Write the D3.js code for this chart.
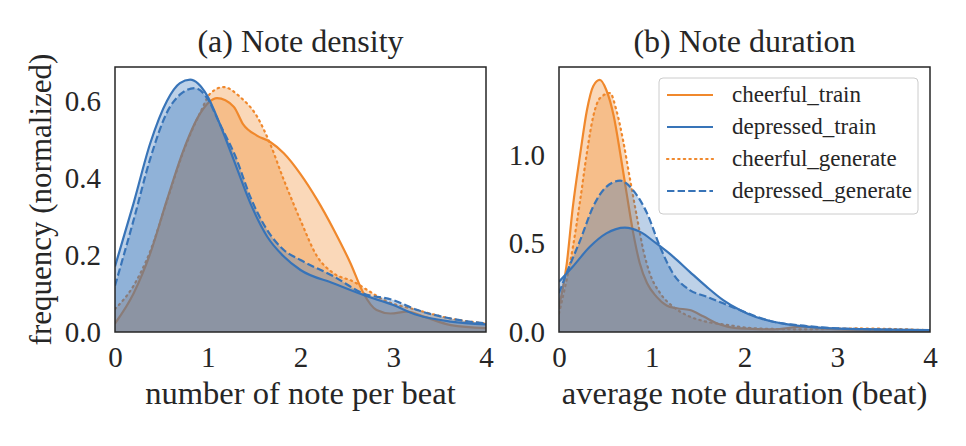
<!DOCTYPE html>
<html>
<head>
<meta charset="utf-8">
<script src="https://cdn.jsdelivr.net/npm/d3@7"></script>
<style>
  html, body { margin: 0; padding: 0; background: #fff; }
  svg { display: block; }
  text { font-family: "Liberation Serif", "Times New Roman", Tinos, "DejaVu Serif", serif; fill: #262626; }
</style>
</head>
<body>
<svg id="chart" width="966" height="446"></svg>
<script>
// ---------------- DATA ----------------
const seriesNames = ["cheerful_train", "depressed_train", "cheerful_generate", "depressed_generate"];
const drawOrder = ["cheerful_train", "cheerful_generate", "depressed_train", "depressed_generate"];
const panelTitles = ["(a) Note density", "(b) Note duration"];
const xLabels = ["number of note per beat", "average note duration (beat)"];
const yLabel = "frequency (normalized)";
const xTicks = [0, 1, 2, 3, 4];
const yTicksA = [0.0, 0.2, 0.4, 0.6];
const yTicksB = [0.0, 0.5, 1.0];
const yMaxA = 0.688;
const yMaxB = 1.497;

// Panel (a): note density
const a_cheerful_train_x = [0,0.2,0.38,0.56,0.74,0.92,1.1,1.28,1.38,1.53,1.67,1.82,2.0,2.18,2.36,2.54,2.68,2.82,2.97,3.15,3.33,3.62,4.0];
const a_cheerful_train_y = [0.022,0.10,0.204,0.343,0.473,0.568,0.607,0.585,0.54,0.51,0.494,0.464,0.41,0.343,0.265,0.178,0.10,0.057,0.048,0.053,0.04,0.018,0.01];
const a_depressed_train_x = [0,0.2,0.38,0.56,0.70,0.81,0.99,1.13,1.28,1.46,1.64,1.82,2.0,2.36,2.68,3.0,3.26,3.62,4.0];
const a_depressed_train_y = [0.17,0.334,0.49,0.60,0.646,0.655,0.615,0.54,0.447,0.334,0.248,0.196,0.161,0.126,0.096,0.07,0.044,0.027,0.02];
const a_cheerful_generate_x = [0,0.2,0.38,0.56,0.74,0.92,1.03,1.17,1.35,1.53,1.67,1.82,2.0,2.18,2.36,2.57,2.72,2.9,3.26,3.62,4.0];
const a_cheerful_generate_y = [0.06,0.12,0.21,0.34,0.47,0.57,0.62,0.636,0.61,0.56,0.49,0.395,0.29,0.196,0.152,0.131,0.109,0.083,0.057,0.035,0.022];
const a_depressed_generate_x = [0,0.2,0.38,0.56,0.72,0.86,1.0,1.13,1.3,1.46,1.64,1.82,2.0,2.36,2.68,3.0,3.26,3.62,4.0];
const a_depressed_generate_y = [0.12,0.29,0.45,0.57,0.62,0.633,0.605,0.54,0.455,0.35,0.265,0.213,0.187,0.144,0.10,0.083,0.057,0.035,0.022];

// Panel (b): note duration
const b_cheerful_train_x = [0,0.08,0.15,0.23,0.3,0.37,0.44,0.51,0.59,0.66,0.73,0.8,0.87,0.95,1.05,1.16,1.27,1.41,1.56,1.7,1.95,2.31,2.63,2.85,3.39,4.0];
const b_cheerful_train_y = [0.143,0.37,0.71,1.01,1.25,1.39,1.424,1.367,1.22,1.01,0.78,0.56,0.39,0.275,0.2,0.15,0.134,0.124,0.087,0.05,0.02,0.015,0.03,0.02,0.008,0.005];
const b_depressed_train_x = [0,0.15,0.33,0.51,0.71,0.87,1.05,1.23,1.41,1.59,1.77,1.95,2.13,2.31,2.67,3.03,3.39,4.0];
const b_depressed_train_y = [0.284,0.37,0.48,0.557,0.59,0.567,0.50,0.426,0.34,0.256,0.18,0.124,0.083,0.058,0.03,0.019,0.015,0.011];
const b_cheerful_generate_x = [0,0.15,0.23,0.3,0.37,0.44,0.55,0.62,0.69,0.76,0.84,0.91,0.98,1.09,1.23,1.41,1.59,1.81,2.13,2.67,3.21,4.0];
const b_cheerful_generate_y = [0.105,0.48,0.75,1.01,1.22,1.32,1.35,1.25,1.085,0.88,0.65,0.46,0.33,0.22,0.143,0.087,0.058,0.04,0.02,0.015,0.02,0.01];
const b_depressed_generate_x = [0,0.08,0.23,0.37,0.51,0.66,0.8,0.95,1.09,1.23,1.41,1.59,1.77,1.95,2.13,2.31,2.67,3.03,3.39,4.0];
const b_depressed_generate_y = [0.22,0.33,0.52,0.71,0.82,0.855,0.80,0.67,0.48,0.33,0.237,0.2,0.162,0.124,0.087,0.058,0.034,0.02,0.015,0.01];

// ---------------- STYLE ----------------
const FONT = '"Liberation Serif", "Times New Roman", Tinos, "DejaVu Serif", serif';
const ORANGE = "#f0882c";
const BLUE = "#3874b8";
const styles = {
  cheerful_train:     { color: ORANGE, dash: null, cap: "butt" },
  depressed_train:    { color: BLUE,   dash: null, cap: "butt" },
  cheerful_generate:  { color: ORANGE, dash: "1.4,4.2", cap: "round" },
  depressed_generate: { color: BLUE,   dash: "7.4,3.2", cap: "butt" }
};
const FILL_OPACITY = 0.33;

const zip = (xs, ys) => xs.map((x, i) => ({ x, y: ys[i] }));
const panelsData = [
  {
    cheerful_train: zip(a_cheerful_train_x, a_cheerful_train_y),
    depressed_train: zip(a_depressed_train_x, a_depressed_train_y),
    cheerful_generate: zip(a_cheerful_generate_x, a_cheerful_generate_y),
    depressed_generate: zip(a_depressed_generate_x, a_depressed_generate_y)
  },
  {
    cheerful_train: zip(b_cheerful_train_x, b_cheerful_train_y),
    depressed_train: zip(b_depressed_train_x, b_depressed_train_y),
    cheerful_generate: zip(b_cheerful_generate_x, b_cheerful_generate_y),
    depressed_generate: zip(b_depressed_generate_x, b_depressed_generate_y)
  }
];

const svg = d3.select("#chart");
const panels = [
  { left: 115, right: 486, top: 67, bottom: 332, yMax: yMaxA, yTicks: yTicksA },
  { left: 559, right: 930, top: 67, bottom: 332, yMax: yMaxB, yTicks: yTicksB }
];

panels.forEach((p, pi) => {
  const x = d3.scaleLinear().domain([0, 4]).range([p.left, p.right]);
  const y = d3.scaleLinear().domain([0, p.yMax]).range([p.bottom, p.top]);
  const g = svg.append("g");

  const clipId = "clip" + pi;
  svg.append("clipPath").attr("id", clipId)
    .append("rect").attr("x", p.left).attr("y", p.top)
    .attr("width", p.right - p.left).attr("height", p.bottom - p.top);

  const plot = g.append("g").attr("clip-path", `url(#${clipId})`);
  const area = d3.area().x(d => x(d.x)).y0(y(0)).y1(d => y(d.y)).curve(d3.curveMonotoneX);
  const line = d3.line().x(d => x(d.x)).y(d => y(d.y)).curve(d3.curveMonotoneX);

  drawOrder.forEach(name => {
    const data = panelsData[pi][name];
    const st = styles[name];
    plot.append("path").datum(data).attr("d", area)
      .attr("fill", st.color).attr("fill-opacity", FILL_OPACITY).attr("stroke", "none");
    plot.append("path").datum(data).attr("d", line)
      .attr("fill", "none").attr("stroke", st.color).attr("stroke-width", 2.2)
      .attr("stroke-linecap", st.cap)
      .attr("stroke-dasharray", st.dash);
  });

  // axes (no tick marks, like seaborn white style)
  const xAxis = d3.axisBottom(x).tickValues(xTicks).tickSize(0).tickPadding(14).tickFormat(d3.format("d"));
  const gx = g.append("g").attr("transform", `translate(0,${p.bottom})`).call(xAxis);
  gx.attr("font-family", null).attr("font-size", null);
  gx.select(".domain").remove();
  gx.selectAll("text").style("font-size", "29px").style("font-family", FONT).attr("fill", "#262626");

  const yAxis = d3.axisLeft(y).tickValues(p.yTicks).tickSize(0).tickPadding(14).tickFormat(d3.format(".1f"));
  const gy = g.append("g").attr("transform", `translate(${p.left},0)`).call(yAxis);
  gy.attr("font-family", null).attr("font-size", null);
  gy.select(".domain").remove();
  gy.selectAll("text").style("font-size", "29px").style("font-family", FONT).attr("fill", "#262626");

  // frame
  g.append("rect").attr("x", p.left).attr("y", p.top)
    .attr("width", p.right - p.left).attr("height", p.bottom - p.top)
    .attr("fill", "none").attr("stroke", "#262626").attr("stroke-width", 1.5);

  // title
  g.append("text").attr("x", (p.left + p.right) / 2).attr("y", 52)
    .attr("text-anchor", "middle").style("font-size", "32px").text(panelTitles[pi]);
  // x label
  g.append("text").attr("x", (p.left + p.right) / 2).attr("y", 404)
    .attr("text-anchor", "middle").style("font-size", "32.5px").text(xLabels[pi]);
});

// y label
svg.append("text")
  .attr("transform", `translate(51,${(67 + 332) / 2}) rotate(-90)`)
  .attr("text-anchor", "middle").style("font-size", "31px").text(yLabel);

// legend
const lg = svg.append("g");
lg.append("rect").attr("x", 659).attr("y", 78).attr("width", 259).attr("height", 136)
  .attr("rx", 4).attr("fill", "#fff").attr("fill-opacity", 0.8)
  .attr("stroke", "#cccccc").attr("stroke-width", 1);
seriesNames.forEach((name, i) => {
  const cy = 95 + i * 32;
  const st = styles[name];
  lg.append("line").attr("x1", 667).attr("x2", 713).attr("y1", cy).attr("y2", cy)
    .attr("stroke", st.color).attr("stroke-width", 2.2)
    .attr("stroke-linecap", st.cap)
    .attr("stroke-dasharray", st.dash);
  lg.append("text").attr("x", 732).attr("y", cy + 7).style("font-size", "23px").text(name);
});
</script>
</body>
</html>
